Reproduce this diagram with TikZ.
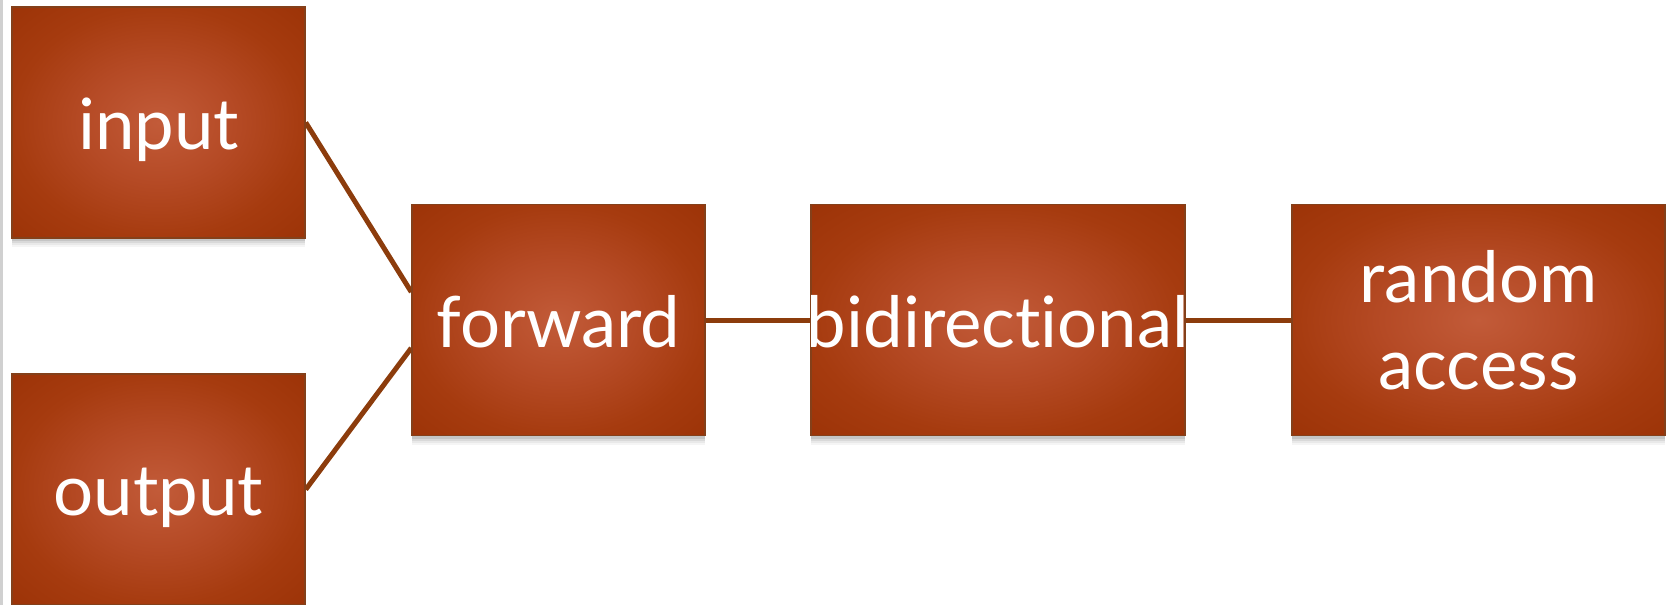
\documentclass[tikz,border=0pt]{standalone}
\usepackage{fontspec}
\setmainfont[Ligatures={NoCommon,NoDiscretionary,NoContextual}]{Lato}
\usetikzlibrary{calc,shadows}
\definecolor{bxin}{HTML}{C25B39}
\definecolor{bxmid}{HTML}{B54A25}
\definecolor{bxedge}{HTML}{A63B0F}
\definecolor{bxcorner}{HTML}{9C3307}
\definecolor{bxline}{HTML}{84401A}
\definecolor{conn}{HTML}{8C3C0C}
\definecolor{strip}{HTML}{D0D0D0}
\pgfdeclareradialshading{boxshade}{\pgfpoint{0bp}{0bp}}{color(0bp)=(bxin); color(13bp)=(bxmid); color(25bp)=(bxedge); color(36bp)=(bxcorner); color(50bp)=(bxcorner)}
\pgfdeclarelayer{bg}
\pgfsetlayers{bg,main}
\tikzset{
  box/.style={rectangle, draw=bxline, line width=1.4bp, shading=boxshade,
    inner sep=0pt, minimum height=231bp,
    drop shadow={shadow xshift=0bp, shadow yshift=-9bp, opacity=.04, fill=black},
    drop shadow={shadow xshift=0bp, shadow yshift=-7bp, opacity=.05, fill=black},
    drop shadow={shadow xshift=0bp, shadow yshift=-5bp, opacity=.07, fill=black},
    drop shadow={shadow xshift=0bp, shadow yshift=-3bp, opacity=.09, fill=black}},
  lbl/.style={text=white, inner sep=0pt, font=\fontsize{71}{87}\selectfont},
  conline/.style={draw=conn, line width=5bp}
}
\begin{document}
\begin{tikzpicture}[x=1bp,y=-1bp]
\useasboundingbox (0,0) rectangle (1668,605);
\fill[strip] (0,0) rectangle (3,605);
% boxes
\node[box, minimum width=293bp] (input)  at (158.5,122.5) {};
\node[box, minimum width=293bp] (output) at (158.5,489.5) {};
\node[box, minimum width=293bp] (forward) at (558.5,320) {};
\node[box, minimum width=374bp] (bidir) at (998,320) {};
\node[box, minimum width=373bp] (random) at (1478.5,320) {};
% labels
\node[lbl, anchor=base] (tinput) at ($(input.center)+(0,27)$) {input};
\node[lbl, anchor=base] (toutput) at ($(output.center)+(0,26)$) {output};
\node[lbl, anchor=base] (tforward) at ($(forward.center)+(0,27)$) {forward};
\node[lbl, anchor=base] (tbidir) at ($(bidir.center)+(0,27)$) {bidirectional};
\node[lbl, align=center, anchor=center] (trandom) at (random.center) {random\\access};
% connectors
\begin{pgfonlayer}{bg}
\coordinate (fwin) at ($(forward.west)+(0,-28)$);
\coordinate (fwout) at ($(forward.west)+(0,28)$);
\draw[conline] (input.east) -- (fwin);
\draw[conline] (output.east) -- (fwout);
\draw[conline] (forward.east) -- (bidir.west);
\draw[conline] (bidir.east) -- (random.west);
\end{pgfonlayer}
\end{tikzpicture}
\end{document}
